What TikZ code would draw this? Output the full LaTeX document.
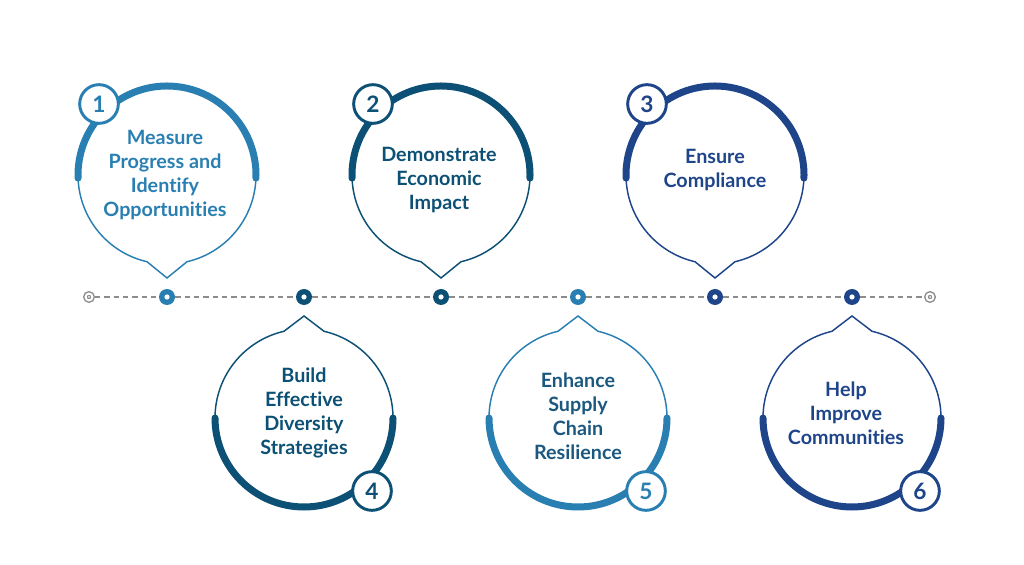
\documentclass[tikz,border=0pt]{standalone}
\usepackage{fontspec}
\setmainfont{Lato}[Ligatures={NoCommon,NoRequired,NoContextual}]
\usetikzlibrary{positioning, calc}
\definecolor{lightcol}{RGB}{42,127,178}
\definecolor{darkcol}{RGB}{12,80,117}
\definecolor{navycol}{RGB}{30,68,138}
\definecolor{fivecol}{RGB}{26,88,128}
\definecolor{linecol}{RGB}{140,140,140}

\begin{document}
\begin{tikzpicture}[
  x=0.75pt, y=0.75pt,
  bubble/.style   = {circle, minimum size=133.5pt, inner sep=0pt, outer sep=0pt},
  thickarc/.style = {line width=5.25pt, line cap=round},
  thinline/.style = {line width=1.1pt},
  badge/.style    = {circle, draw, line width=2.2pt, fill=white, inner sep=0pt,
                     minimum size=29pt, font=\fontsize{17}{17}\selectfont\bfseries},
  lbl/.style      = {align=center, inner sep=0pt,
                     font=\fontsize{14.8}{18}\selectfont\bfseries},
  tdot/.style     = {circle, inner sep=0pt, minimum size=12pt},
  tend/.style     = {circle, draw=linecol, line width=1pt, inner sep=0pt,
                     minimum size=8pt},
  tline/.style    = {draw=linecol, line width=0.9pt, dash pattern=on 4pt off 3pt},
]
\useasboundingbox (0,0) rectangle (1024,564);

% ---------- timeline ----------
\node[tend]                (e0) at (89,267)  {};
\node[tdot, fill=lightcol] (d1) at (167,267) {};
\node[tdot, fill=darkcol]  (d4) at (304,267) {};
\node[tdot, fill=darkcol]  (d2) at (441,267) {};
\node[tdot, fill=lightcol] (d5) at (578,267) {};
\node[tdot, fill=navycol]  (d3) at (715,267) {};
\node[tdot, fill=navycol]  (d6) at (852,267) {};
\node[tend]                (e7) at (930,267) {};
\foreach \d in {d1,d4,d2,d5,d3,d6} \fill[white] (\d) circle[radius=2.6];
\fill[linecol] (e0) circle[radius=2.2];
\fill[linecol] (e7) circle[radius=2.2];
\fill[white] (e0) circle[radius=1];
\fill[white] (e7) circle[radius=1];
\draw[tline] (e0) -- (d1) -- (d4) -- (d2) -- (d5) -- (d3) -- (d6) -- (e7);

% ---------- top row (1, 2, 3) ----------
\node[bubble] (b1) at (167,389) {};
\coordinate   (p1) at (167,286);
\draw[thinline, draw=lightcol] (b1.-2) arc[start angle=-2, end angle=-77, radius=89]
      -- (p1) -- (b1.-103) arc[start angle=-103, end angle=-178, radius=89];
\draw[thickarc, draw=lightcol] (b1.182) arc[start angle=182, end angle=-2, radius=89];
\node[badge, draw=lightcol, text=lightcol] (n1) at (99,460) {1};
\node[lbl, text=lightcol] (t1) at (165,389) {Measure\\Progress and\\Identify\\Opportunities};

\node[bubble] (b2) at (441,389) {};
\coordinate   (p2) at (441,286);
\draw[thinline, draw=darkcol] (b2.-2) arc[start angle=-2, end angle=-77, radius=89]
      -- (p2) -- (b2.-103) arc[start angle=-103, end angle=-178, radius=89];
\draw[thickarc, draw=darkcol] (b2.182) arc[start angle=182, end angle=-2, radius=89];
\node[badge, draw=darkcol, text=darkcol] (n2) at (373,460) {2};
\node[lbl, text=darkcol] (t2) at (439,384) {Demonstrate\\Economic\\Impact};

\node[bubble] (b3) at (715,389) {};
\coordinate   (p3) at (715,286);
\draw[thinline, draw=navycol] (b3.-2) arc[start angle=-2, end angle=-77, radius=89]
      -- (p3) -- (b3.-103) arc[start angle=-103, end angle=-178, radius=89];
\draw[thickarc, draw=navycol] (b3.182) arc[start angle=182, end angle=-2, radius=89];
\node[badge, draw=navycol, text=navycol] (n3) at (647,460) {3};
\node[lbl, text=navycol] (t3) at (715,394) {Ensure\\Compliance};

% ---------- bottom row (4, 5, 6) ----------
\node[bubble] (b4) at (304,146) {};
\coordinate   (p4) at (304,248);
\draw[thinline, draw=darkcol] (b4.0) arc[start angle=0, end angle=77, radius=89]
      -- (p4) -- (b4.103) arc[start angle=103, end angle=180, radius=89];
\draw[thickarc, draw=darkcol] (b4.180) arc[start angle=180, end angle=360, radius=89];
\node[badge, draw=darkcol, text=darkcol] (n4) at (372,73) {4};
\node[lbl, text=darkcol] (t4) at (304,151) {Build\\Effective\\Diversity\\Strategies};

\node[bubble] (b5) at (578,146) {};
\coordinate   (p5) at (578,248);
\draw[thinline, draw=lightcol] (b5.0) arc[start angle=0, end angle=77, radius=89]
      -- (p5) -- (b5.103) arc[start angle=103, end angle=180, radius=89];
\draw[thickarc, draw=lightcol] (b5.180) arc[start angle=180, end angle=360, radius=89];
\node[badge, draw=lightcol, text=lightcol] (n5) at (646,73) {5};
\node[lbl, text=fivecol] (t5) at (578,148) {Enhance\\Supply\\Chain\\Resilience};

\node[bubble] (b6) at (852,146) {};
\coordinate   (p6) at (852,248);
\draw[thinline, draw=navycol] (b6.0) arc[start angle=0, end angle=77, radius=89]
      -- (p6) -- (b6.103) arc[start angle=103, end angle=180, radius=89];
\draw[thickarc, draw=navycol] (b6.180) arc[start angle=180, end angle=360, radius=89];
\node[badge, draw=navycol, text=navycol] (n6) at (920,73) {6};
\node[lbl, text=navycol] (t6) at (846,151) {Help\\Improve\\Communities};

\end{tikzpicture}
\end{document}
